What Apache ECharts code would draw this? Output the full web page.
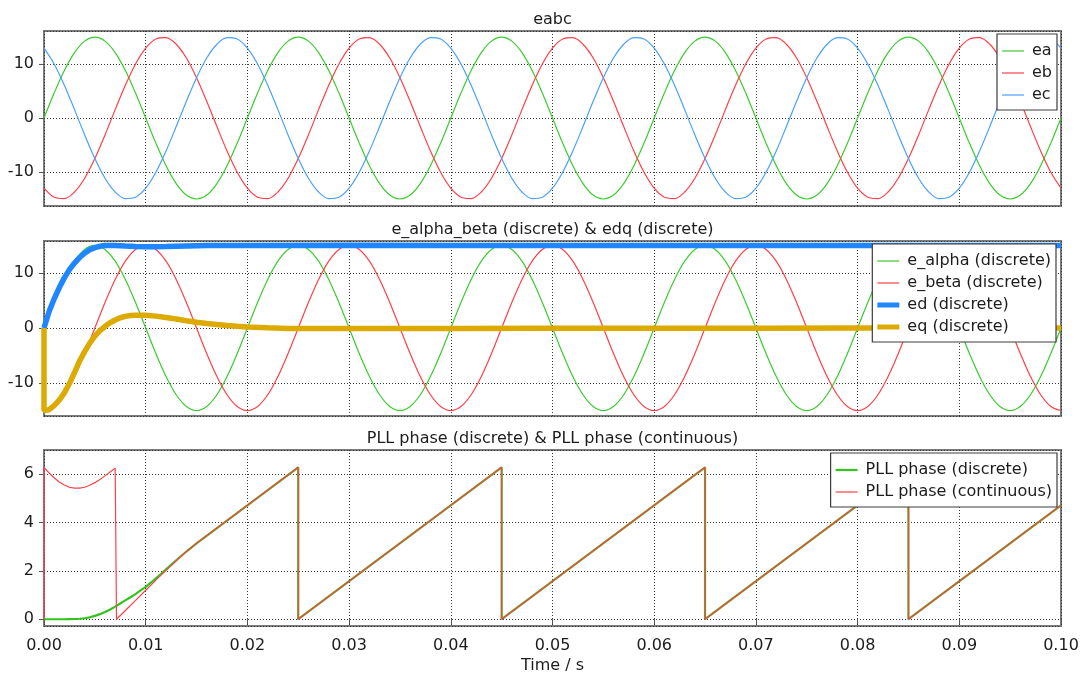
<!DOCTYPE html>
<html>
<head>
<meta charset="utf-8">
<title>PLL scope</title>
<script src="https://cdn.jsdelivr.net/npm/echarts@6/dist/echarts.min.js"></script>
<style>
  html, body { margin: 0; padding: 0; background: #ffffff; }
  #chart { width: 1084px; height: 677px; }
</style>
</head>
<body>
<div id="chart"></div>
<script>
// ---- sampled traces (sample step dt, starting at t = 0) ----
const dt = 0.001; // s

const ea = [
  0, 4.64, 8.82, 12.14, 14.27, 15, 14.27, 12.14, 8.82, 4.64,
  0, -4.64, -8.82, -12.14, -14.27, -15, -14.27, -12.14, -8.82, -4.64,
  0, 4.64, 8.82, 12.14, 14.27, 15, 14.27, 12.14, 8.82, 4.64,
  0, -4.64, -8.82, -12.14, -14.27, -15, -14.27, -12.14, -8.82, -4.64,
  0, 4.64, 8.82, 12.14, 14.27, 15, 14.27, 12.14, 8.82, 4.64,
  0, -4.64, -8.82, -12.14, -14.27, -15, -14.27, -12.14, -8.82, -4.64,
  0, 4.64, 8.82, 12.14, 14.27, 15, 14.27, 12.14, 8.82, 4.64,
  0, -4.64, -8.82, -12.14, -14.27, -15, -14.27, -12.14, -8.82, -4.64,
  0, 4.64, 8.82, 12.14, 14.27, 15, 14.27, 12.14, 8.82, 4.64,
  0, -4.64, -8.82, -12.14, -14.27, -15, -14.27, -12.14, -8.82, -4.64,
  0
];

const eb = [
  -12.99, -14.67, -14.92, -13.70, -11.15, -7.5, -3.12, 1.57, 6.10, 10.04,
  12.99, 14.67, 14.92, 13.70, 11.15, 7.5, 3.12, -1.57, -6.10, -10.04,
  -12.99, -14.67, -14.92, -13.70, -11.15, -7.5, -3.12, 1.57, 6.10, 10.04,
  12.99, 14.67, 14.92, 13.70, 11.15, 7.5, 3.12, -1.57, -6.10, -10.04,
  -12.99, -14.67, -14.92, -13.70, -11.15, -7.5, -3.12, 1.57, 6.10, 10.04,
  12.99, 14.67, 14.92, 13.70, 11.15, 7.5, 3.12, -1.57, -6.10, -10.04,
  -12.99, -14.67, -14.92, -13.70, -11.15, -7.5, -3.12, 1.57, 6.10, 10.04,
  12.99, 14.67, 14.92, 13.70, 11.15, 7.5, 3.12, -1.57, -6.10, -10.04,
  -12.99, -14.67, -14.92, -13.70, -11.15, -7.5, -3.12, 1.57, 6.10, 10.04,
  12.99, 14.67, 14.92, 13.70, 11.15, 7.5, 3.12, -1.57, -6.10, -10.04,
  -12.99
];

const ec = [
  12.99, 10.04, 6.10, 1.57, -3.12, -7.5, -11.15, -13.70, -14.92, -14.67,
  -12.99, -10.04, -6.10, -1.57, 3.12, 7.5, 11.15, 13.70, 14.92, 14.67,
  12.99, 10.04, 6.10, 1.57, -3.12, -7.5, -11.15, -13.70, -14.92, -14.67,
  -12.99, -10.04, -6.10, -1.57, 3.12, 7.5, 11.15, 13.70, 14.92, 14.67,
  12.99, 10.04, 6.10, 1.57, -3.12, -7.5, -11.15, -13.70, -14.92, -14.67,
  -12.99, -10.04, -6.10, -1.57, 3.12, 7.5, 11.15, 13.70, 14.92, 14.67,
  12.99, 10.04, 6.10, 1.57, -3.12, -7.5, -11.15, -13.70, -14.92, -14.67,
  -12.99, -10.04, -6.10, -1.57, 3.12, 7.5, 11.15, 13.70, 14.92, 14.67,
  12.99, 10.04, 6.10, 1.57, -3.12, -7.5, -11.15, -13.70, -14.92, -14.67,
  -12.99, -10.04, -6.10, -1.57, 3.12, 7.5, 11.15, 13.70, 14.92, 14.67,
  12.99
];

const eAlpha = [
  0, 4.64, 8.82, 12.14, 14.27, 15, 14.27, 12.14, 8.82, 4.64,
  0, -4.64, -8.82, -12.14, -14.27, -15, -14.27, -12.14, -8.82, -4.64,
  0, 4.64, 8.82, 12.14, 14.27, 15, 14.27, 12.14, 8.82, 4.64,
  0, -4.64, -8.82, -12.14, -14.27, -15, -14.27, -12.14, -8.82, -4.64,
  0, 4.64, 8.82, 12.14, 14.27, 15, 14.27, 12.14, 8.82, 4.64,
  0, -4.64, -8.82, -12.14, -14.27, -15, -14.27, -12.14, -8.82, -4.64,
  0, 4.64, 8.82, 12.14, 14.27, 15, 14.27, 12.14, 8.82, 4.64,
  0, -4.64, -8.82, -12.14, -14.27, -15, -14.27, -12.14, -8.82, -4.64,
  0, 4.64, 8.82, 12.14, 14.27, 15, 14.27, 12.14, 8.82, 4.64,
  0, -4.64, -8.82, -12.14, -14.27, -15, -14.27, -12.14, -8.82, -4.64,
  0
];

const eBeta = [
  -15, -14.27, -12.14, -8.82, -4.64, 0, 4.64, 8.82, 12.14, 14.27,
  15, 14.27, 12.14, 8.82, 4.64, 0, -4.64, -8.82, -12.14, -14.27,
  -15, -14.27, -12.14, -8.82, -4.64, 0, 4.64, 8.82, 12.14, 14.27,
  15, 14.27, 12.14, 8.82, 4.64, 0, -4.64, -8.82, -12.14, -14.27,
  -15, -14.27, -12.14, -8.82, -4.64, 0, 4.64, 8.82, 12.14, 14.27,
  15, 14.27, 12.14, 8.82, 4.64, 0, -4.64, -8.82, -12.14, -14.27,
  -15, -14.27, -12.14, -8.82, -4.64, 0, 4.64, 8.82, 12.14, 14.27,
  15, 14.27, 12.14, 8.82, 4.64, 0, -4.64, -8.82, -12.14, -14.27,
  -15, -14.27, -12.14, -8.82, -4.64, 0, 4.64, 8.82, 12.14, 14.27,
  15, 14.27, 12.14, 8.82, 4.64, 0, -4.64, -8.82, -12.14, -14.27,
  -15
];

// ---- dq components (irregular time stamps) ----
const edTime = [0, 0.0005, 0.001, 0.0015, 0.002, 0.0025, 0.003, 0.0035, 0.004, 0.0045,
  0.005, 0.0055, 0.006, 0.0065, 0.007, 0.008, 0.009, 0.01, 0.011, 0.012, 0.014, 0.016,
  0.02, 0.03, 0.04, 0.05, 0.06, 0.07, 0.08, 0.09, 0.1];
const edVals = [0, 3.0, 5.3, 7.3, 9.1, 10.6, 11.8, 12.8, 13.6, 14.2,
  14.6, 14.85, 14.97, 15.0, 14.98, 14.88, 14.8, 14.75, 14.76, 14.8, 14.9, 14.96,
  15.0, 15.02, 15.0, 15.0, 15.0, 15.0, 15.0, 15.0, 15.0];

const eqTime = [0, 0, 0.0005, 0.001, 0.0015, 0.002, 0.0025, 0.003, 0.0035, 0.004, 0.0045,
  0.005, 0.0055, 0.006, 0.0065, 0.007, 0.0075, 0.008, 0.0085, 0.009, 0.0095, 0.01,
  0.011, 0.012, 0.013, 0.014, 0.015, 0.016, 0.017, 0.018, 0.019, 0.02, 0.022, 0.024,
  0.026, 0.03, 0.04, 0.05, 0.06, 0.07, 0.08, 0.09, 0.1];
const eqVals = [0, -15, -14.85, -14.1, -13.1, -11.8, -10.1, -8.1, -6.0, -4.3, -2.75,
  -1.5, -0.5, 0.3, 0.95, 1.45, 1.85, 2.1, 2.25, 2.32, 2.33, 2.3,
  2.15, 1.9, 1.62, 1.32, 1.05, 0.82, 0.62, 0.45, 0.3, 0.18, 0.02, -0.08,
  -0.12, -0.1, -0.08, -0.05, -0.05, -0.04, -0.03, -0.02, -0.02];

// ---- PLL phase angle [rad] ----
const pllDiscTime = [0, 0.001, 0.002, 0.0025, 0.003, 0.0035, 0.004, 0.0045, 0.005, 0.0055,
  0.006, 0.0065, 0.007, 0.0075, 0.008, 0.0085, 0.009, 0.0095, 0.01, 0.0105, 0.011,
  0.0115, 0.012, 0.013, 0.014, 0.015, 0.025, 0.025, 0.045, 0.045, 0.065, 0.065,
  0.085, 0.085, 0.1];
const pllDiscVals = [0, 0, 0, 0.005, 0.01, 0.02, 0.04, 0.08, 0.14, 0.21,
  0.30, 0.40, 0.52, 0.65, 0.78, 0.91, 1.04, 1.19, 1.34, 1.51, 1.69,
  1.87, 2.06, 2.44, 2.80, 3.14, 6.283, 0, 6.283, 0, 6.283, 0,
  6.283, 0, 4.712];

const pllContTime = [0, 0, 0.0005, 0.001, 0.0015, 0.002, 0.0025, 0.003, 0.0035, 0.004,
  0.0045, 0.005, 0.0055, 0.006, 0.0065, 0.007, 0.00713, 0.00713, 0.008, 0.009, 0.01,
  0.011, 0.012, 0.013, 0.014, 0.015, 0.025, 0.025, 0.045, 0.045, 0.065, 0.065,
  0.085, 0.085, 0.1];
const pllContVals = [0, 6.283, 6.05, 5.85, 5.68, 5.55, 5.46, 5.42, 5.42, 5.46,
  5.54, 5.65, 5.78, 5.93, 6.09, 6.25, 6.283, 0, 0.36, 0.78, 1.20,
  1.62, 2.02, 2.42, 2.80, 3.14, 6.283, 0, 6.283, 0, 6.283, 0,
  6.283, 0, 4.712];

// ---- helpers ----
const sampled = vals => vals.map((v, i) => [i * dt, v]);
const zip = (ts, vs) => ts.map((t, i) => [t, vs[i]]);

const FONT = 'DejaVu Sans';
const TXT = '#1c1c1c';
const GREEN = '#3ccb2e';
const RED = '#ff4048';
const BLUE = '#4aa0ff';
const ED_BLUE = '#1f86ff';
const EQ_GOLD = '#dcaa00';
const PLL_GREEN = '#33c41f';

const icon = h => 'path://M0 0H22V' + h + 'H0Z';

const grids = [
  { left: 44, right: 23, top: 31, height: 175 },
  { left: 44, right: 23, top: 241, height: 175 },
  { left: 44, right: 23, top: 450, height: 176 }
];

const splitDots = { show: true, lineStyle: { color: '#3a3a3a', type: [1, 2], width: 1 } };

function xAxis(i, last) {
  return {
    type: 'value', gridIndex: i, min: 0, max: 0.1, interval: 0.01,
    axisLine: { show: false },
    axisTick: { show: last, length: 5, inside: false, lineStyle: { color: '#555', width: 1 } },
    axisLabel: {
      show: last, margin: 12, color: TXT, fontFamily: FONT, fontSize: 16,
      formatter: v => v.toFixed(2)
    },
    splitLine: splitDots,
    name: last ? 'Time / s' : '',
    nameLocation: 'middle', nameGap: 32,
    nameTextStyle: { color: TXT, fontFamily: FONT, fontSize: 16 }
  };
}

function yAxis(i, min, max, splitNumber) {
  return {
    type: 'value', gridIndex: i, min, max, splitNumber,
    axisLine: { show: false },
    axisTick: { show: true, length: 5, lineStyle: { color: '#555', width: 1 } },
    axisLabel: {
      margin: 10, color: TXT, fontFamily: FONT, fontSize: 16,
      showMinLabel: false, showMaxLabel: false
    },
    splitLine: splitDots
  };
}

function thin(name, data, color, gx, smooth) {
  return {
    name, type: 'line', xAxisIndex: gx, yAxisIndex: gx, data,
    color, symbol: 'none', smooth: smooth ? 0.33 : false,
    lineStyle: { color, width: 1.2 }, silent: true
  };
}

function legendBox(top, right, names, icons) {
  return {
    top, right, orient: 'vertical', selectedMode: false,
    backgroundColor: '#ffffff', borderColor: '#3c3c3c', borderWidth: 1.2, borderRadius: 0,
    padding: [9, 5, 7, 5], itemGap: 6, itemWidth: 22, itemHeight: 14,
    textStyle: { color: TXT, fontFamily: FONT, fontSize: 16, padding: [0, 0, 0, 3] },
    data: names.map((n, k) => ({ name: n, icon: icon(icons[k]) }))
  };
}

const titleStyle = { color: TXT, fontFamily: FONT, fontSize: 16, fontWeight: 'normal' };

const option = {
  animation: false,
  backgroundColor: '#ffffff',
  title: [
    { text: 'eabc', left: 552.5, top: 12, textAlign: 'center', padding: 0, textStyle: titleStyle },
    { text: 'e_alpha_beta (discrete) & edq (discrete)', left: 552.5, top: 222, textAlign: 'center', padding: 0, textStyle: titleStyle },
    { text: 'PLL phase (discrete) & PLL phase (continuous)', left: 552.5, top: 431, textAlign: 'center', padding: 0, textStyle: titleStyle }
  ],
  grid: grids.map(g => Object.assign({
    show: true, borderColor: '#7a7a7a', borderWidth: 2, backgroundColor: 'transparent',
    containLabel: false, outerBoundsMode: 'none'
  }, g)),
  xAxis: [xAxis(0, false), xAxis(1, false), xAxis(2, true)],
  yAxis: [yAxis(0, -16.3, 16.15, 3), yAxis(1, -16.0, 15.8, 3), yAxis(2, -0.28, 7.0, 4)],
  legend: [
    legendBox(34, 27, ['ea', 'eb', 'ec'], [1.2, 1.2, 1.2]),
    legendBox(244, 28, ['e_alpha (discrete)', 'e_beta (discrete)', 'ed (discrete)', 'eq (discrete)'], [1.2, 1.2, 5, 5]),
    legendBox(453, 27, ['PLL phase (discrete)', 'PLL phase (continuous)'], [2.2, 1.2])
  ],
  series: [
    thin('ea', sampled(ea), GREEN, 0, true),
    thin('eb', sampled(eb), RED, 0, true),
    thin('ec', sampled(ec), BLUE, 0, true),

    thin('e_alpha (discrete)', sampled(eAlpha), GREEN, 1, true),
    thin('e_beta (discrete)', sampled(eBeta), RED, 1, true),
    {
      name: 'ed (discrete)', type: 'line', xAxisIndex: 1, yAxisIndex: 1,
      data: zip(edTime, edVals), color: ED_BLUE, symbol: 'none',
      lineStyle: { color: ED_BLUE, width: 5.5 }, silent: true
    },
    {
      name: 'eq (discrete)', type: 'line', xAxisIndex: 1, yAxisIndex: 1,
      data: zip(eqTime, eqVals), color: EQ_GOLD, symbol: 'none',
      lineStyle: { color: EQ_GOLD, width: 5.5 }, silent: true
    },

    {
      name: 'PLL phase (discrete)', type: 'line', xAxisIndex: 2, yAxisIndex: 2,
      data: zip(pllDiscTime, pllDiscVals), color: PLL_GREEN, symbol: 'none',
      lineStyle: { color: PLL_GREEN, width: 2.2 }, silent: true
    },
    thin('PLL phase (continuous)', zip(pllContTime, pllContVals), RED, 2, false)
  ]
};

const chart = echarts.init(document.getElementById('chart'), null, { renderer: 'canvas' });
chart.setOption(option);
</script>
</body>
</html>
